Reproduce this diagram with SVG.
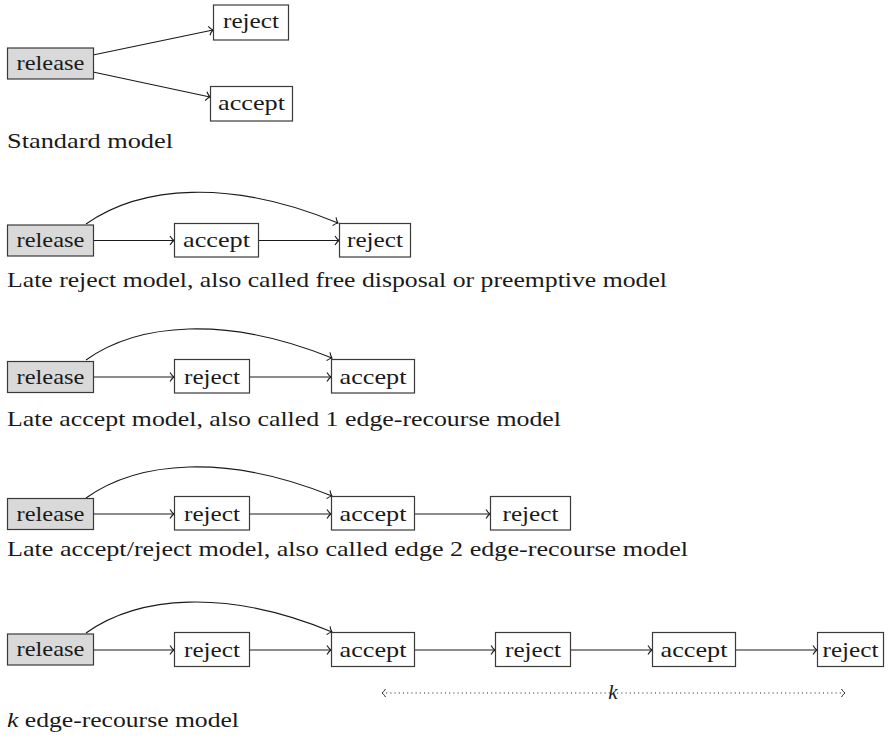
<svg xmlns="http://www.w3.org/2000/svg" width="892" height="742" viewBox="0 0 892 742" font-family="Liberation Serif, Times New Roman, Times, DejaVu Serif, serif">
  <style>
    .box { fill: #ffffff; stroke: #3a3a3a; stroke-width: 1.2; }
    .src { fill: #d9d9d9; stroke: #3a3a3a; stroke-width: 1.2; }
    .lbl { font-family: 'Liberation Serif', 'Times New Roman', Times, 'DejaVu Serif', serif; font-size: 21px; fill: #1a1a1a; text-anchor: middle; }
    .cap { font-family: 'Liberation Serif', 'Times New Roman', Times, 'DejaVu Serif', serif; font-size: 21px; fill: #1a1a1a; }
    .edge { fill: none; stroke: #1a1a1a; stroke-width: 1.1; marker-end: url(#to); }
    .span { fill: none; stroke: #1a1a1a; stroke-width: 1; stroke-dasharray: 1 3.2; }
  </style>
  <defs>
    <marker id="to" markerUnits="userSpaceOnUse" markerWidth="12" markerHeight="12" viewBox="-6 -6 12 12" refX="0" refY="0" orient="auto" overflow="visible">
      <path d="M-4,-4.5 C-2.3,-1.7 -0.8,-0.5 0,0 C-0.8,0.5 -2.3,1.7 -4,4.5" fill="none" stroke="#1a1a1a" stroke-width="1.1"/>
    </marker>
    <marker id="to2" markerUnits="userSpaceOnUse" markerWidth="12" markerHeight="12" viewBox="-6 -6 12 12" refX="0" refY="0" orient="auto-start-reverse" overflow="visible">
      <path d="M-3.5,-4 C-2,-1.5 -0.7,-0.5 0,0 C-0.7,0.5 -2,1.5 -3.5,4" fill="none" stroke="#1a1a1a" stroke-width="1"/>
    </marker>
  </defs>

  <!-- connectors -->
  <g id="connectors">
    <!-- standard model -->
    <path class="edge" d="M93,55 L213,30"/>
    <path class="edge" d="M93,72 L210,97"/>
    <!-- late reject -->
    <path class="edge" d="M93,240.5 L174,240.5"/>
    <path class="edge" d="M258,240.5 L339,240.5"/>
    <path class="edge" d="M86,224 C140,186 230,178 338,223"/>
    <!-- late accept -->
    <path class="edge" d="M93,377 L174,377"/>
    <path class="edge" d="M249,377 L331,377"/>
    <path class="edge" d="M86,360 C138,323 226,315 332,358"/>
    <!-- late accept/reject -->
    <path class="edge" d="M93,514 L174,514"/>
    <path class="edge" d="M249,514 L331,514"/>
    <path class="edge" d="M414,514 L490,514"/>
    <path class="edge" d="M86,498 C138,461 226,453 332,496"/>
    <!-- k edge-recourse -->
    <path class="edge" d="M93,650 L174,650"/>
    <path class="edge" d="M249,650 L331,650"/>
    <path class="edge" d="M414,650 L495,650"/>
    <path class="edge" d="M570,650 L652,650"/>
    <path class="edge" d="M735,650 L817,650"/>
    <path class="edge" d="M86,633 C138,596 226,588 332,632"/>
    <!-- span of k edges -->
    <path class="span" d="M382,693 L845,693" marker-start="url(#to2)" marker-end="url(#to2)"/>
  </g>

  <!-- standard model -->
  <g id="n1-release"><rect class="src" x="7.5" y="48" width="86" height="31"/><text class="lbl" x="50.5" y="70" textLength="68" lengthAdjust="spacingAndGlyphs">release</text></g>
  <g id="n1-reject"><rect class="box" x="213.5" y="5" width="75" height="35"/><text class="lbl" x="251" y="28" textLength="56" lengthAdjust="spacingAndGlyphs">reject</text></g>
  <g id="n1-accept"><rect class="box" x="210.5" y="86.5" width="82" height="34.5"/><text class="lbl" x="251.5" y="110" textLength="67" lengthAdjust="spacingAndGlyphs">accept</text></g>
  <text class="cap" x="7" y="148" textLength="166" lengthAdjust="spacingAndGlyphs">Standard model</text>

  <!-- late reject -->
  <g id="n2-release"><rect class="src" x="7.5" y="225" width="86" height="31"/><text class="lbl" x="50.5" y="247" textLength="68" lengthAdjust="spacingAndGlyphs">release</text></g>
  <g id="n2-accept"><rect class="box" x="174.5" y="223.5" width="84" height="33.5"/><text class="lbl" x="216.5" y="247" textLength="67" lengthAdjust="spacingAndGlyphs">accept</text></g>
  <g id="n2-reject"><rect class="box" x="339.5" y="223.5" width="71" height="33.5"/><text class="lbl" x="375" y="247" textLength="56" lengthAdjust="spacingAndGlyphs">reject</text></g>
  <text class="cap" x="7" y="287" textLength="660" lengthAdjust="spacingAndGlyphs">Late reject model, also called free disposal or preemptive model</text>

  <!-- late accept -->
  <g id="n3-release"><rect class="src" x="7.5" y="361.5" width="86" height="31"/><text class="lbl" x="50.5" y="383.5" textLength="68" lengthAdjust="spacingAndGlyphs">release</text></g>
  <g id="n3-reject"><rect class="box" x="174.5" y="359.5" width="75" height="33.5"/><text class="lbl" x="212" y="383.5" textLength="56" lengthAdjust="spacingAndGlyphs">reject</text></g>
  <g id="n3-accept"><rect class="box" x="331.5" y="359.5" width="83" height="33.5"/><text class="lbl" x="373" y="383.5" textLength="67" lengthAdjust="spacingAndGlyphs">accept</text></g>
  <text class="cap" x="7" y="426" textLength="554" lengthAdjust="spacingAndGlyphs">Late accept model, also called 1 edge-recourse model</text>

  <!-- late accept/reject -->
  <g id="n4-release"><rect class="src" x="7.5" y="498.5" width="86" height="31"/><text class="lbl" x="50.5" y="520.5" textLength="68" lengthAdjust="spacingAndGlyphs">release</text></g>
  <g id="n4-reject1"><rect class="box" x="174.5" y="496.5" width="75" height="33.5"/><text class="lbl" x="212" y="520.5" textLength="56" lengthAdjust="spacingAndGlyphs">reject</text></g>
  <g id="n4-accept"><rect class="box" x="331.5" y="496.5" width="83" height="33.5"/><text class="lbl" x="373" y="520.5" textLength="67" lengthAdjust="spacingAndGlyphs">accept</text></g>
  <g id="n4-reject2"><rect class="box" x="490.5" y="496.5" width="80" height="33.5"/><text class="lbl" x="530.5" y="520.5" textLength="56" lengthAdjust="spacingAndGlyphs">reject</text></g>
  <text class="cap" x="7" y="556" textLength="681" lengthAdjust="spacingAndGlyphs">Late accept/reject model, also called edge 2 edge-recourse model</text>

  <!-- k edge-recourse -->
  <g id="n5-release"><rect class="src" x="7.5" y="634" width="86" height="31"/><text class="lbl" x="50.5" y="656" textLength="68" lengthAdjust="spacingAndGlyphs">release</text></g>
  <g id="n5-reject1"><rect class="box" x="174.5" y="632.5" width="75" height="34"/><text class="lbl" x="212" y="656.5" textLength="56" lengthAdjust="spacingAndGlyphs">reject</text></g>
  <g id="n5-accept1"><rect class="box" x="331.5" y="632.5" width="83" height="34"/><text class="lbl" x="373" y="656.5" textLength="67" lengthAdjust="spacingAndGlyphs">accept</text></g>
  <g id="n5-reject2"><rect class="box" x="495.5" y="632.5" width="75" height="34"/><text class="lbl" x="533" y="656.5" textLength="56" lengthAdjust="spacingAndGlyphs">reject</text></g>
  <g id="n5-accept2"><rect class="box" x="652.5" y="632.5" width="83" height="34"/><text class="lbl" x="694" y="656.5" textLength="67" lengthAdjust="spacingAndGlyphs">accept</text></g>
  <g id="n5-reject3"><rect class="box" x="817.5" y="632.5" width="66" height="34"/><text class="lbl" x="850.5" y="656.5" textLength="56" lengthAdjust="spacingAndGlyphs">reject</text></g>
  <text class="lbl" x="613" y="699" font-style="italic">k</text>
  <text class="cap" x="7" y="727" textLength="232" lengthAdjust="spacingAndGlyphs"><tspan font-style="italic">k</tspan> edge-recourse model</text>
</svg>
